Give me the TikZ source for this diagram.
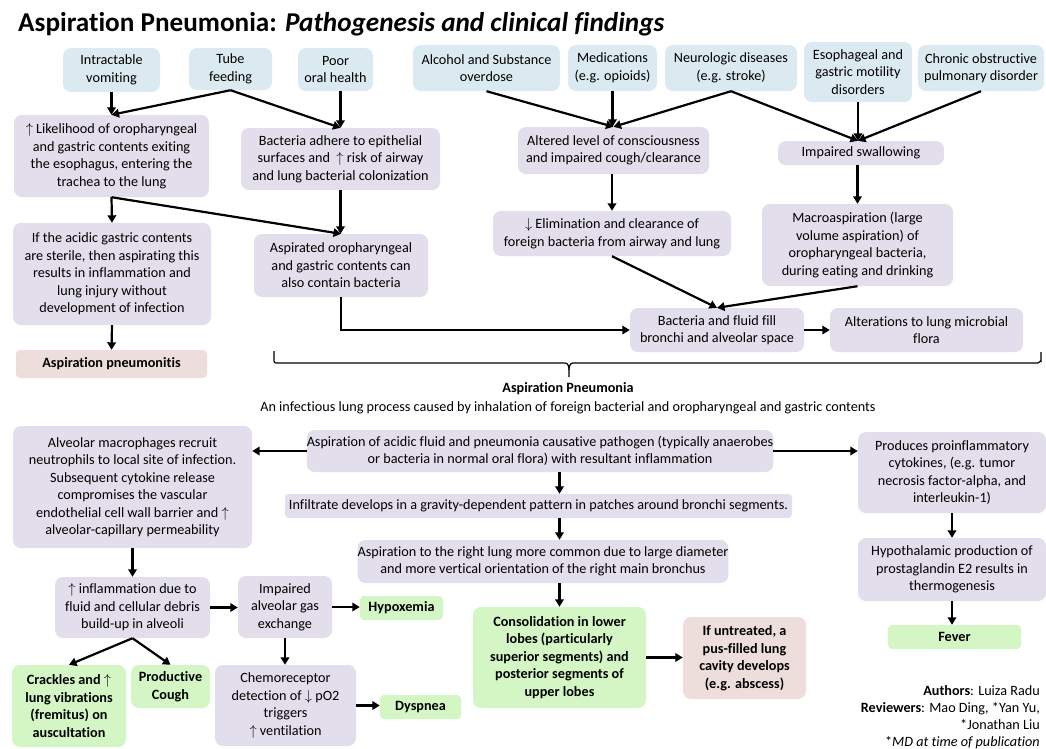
\documentclass[tikz,border=0pt]{standalone}
\usepackage{fontspec}
\setmainfont{Carlito}[Ligatures=NoCommon]
\usetikzlibrary{arrows.meta,calc}
\definecolor{cblue}{HTML}{DBEAF0}
\definecolor{cpurp}{HTML}{E2DEEB}
\definecolor{cgreen}{HTML}{D4F5C4}
\definecolor{cpink}{HTML}{EEDEDB}
\newcommand{\ua}{$\uparrow$}
\newcommand{\da}{$\downarrow$}
\tikzset{
  bx/.style={rounded corners=8pt, inner sep=0pt, align=center, font=\fontsize{14.2}{17.5}\selectfont},
  bl/.style={bx, fill=cblue},
  pu/.style={bx, fill=cpurp},
  gr/.style={bx, fill=cgreen, font=\fontsize{14.2}{17.5}\selectfont\bfseries},
  pk/.style={bx, fill=cpink, font=\fontsize{14.2}{17.5}\selectfont\bfseries},
  ar/.style={line width=2.2pt, -{Triangle[length=7.5pt,width=8.5pt]}},
}
\begin{document}
\begin{tikzpicture}[x=1pt,y=-1pt]
\useasboundingbox[fill=white] (0,0) rectangle (1046,748);
\node[anchor=base west, font=\fontsize{27.2}{32}\selectfont\bfseries, inner sep=0pt] (title) at (18,31) {Aspiration Pneumonia: \textit{Pathogenesis and clinical findings}};
% top row
\node[bl, minimum width=97pt, minimum height=44pt] (iv) at (111.5,70) {Intractable\\vomiting};
\node[bl, minimum width=83pt, minimum height=42pt] (tf) at (230.5,69) {Tube\\feeding};
\node[bl, minimum width=75pt, minimum height=43pt] (poh) at (335.5,69.5) {Poor\\oral health};
\node[bl, minimum width=147pt, minimum height=46pt] (alc) at (486.5,68) {Alcohol and Substance\\overdose};
\node[bl, minimum width=89pt, minimum height=46pt] (med) at (612.5,68) {Medications\\(e.g. opioids)};
\node[bl, minimum width=132pt, minimum height=46pt] (neu) at (731,68) {Neurologic diseases\\(e.g. stroke)};
\node[bl, minimum width=108pt, minimum height=60pt] (eso) at (858,72) {Esophageal and\\gastric motility\\disorders};
\node[bl, minimum width=126pt, minimum height=46pt] (copd) at (981,68) {Chronic obstructive\\pulmonary disorder};
% second
\node[pu, minimum width=195pt, minimum height=82pt] (lik) at (111.5,156) {\ua\ Likelihood of oropharyngeal\\and gastric contents exiting\\the esophagus, entering the\\trachea to the lung};
\node[pu, minimum width=199pt, minimum height=62pt] (bad) at (340.5,159) {Bacteria adhere to epithelial\\surfaces and \ \ua\ risk of airway\\and lung bacterial colonization};
\node[pu, minimum width=191pt, minimum height=47pt] (alt) at (613.5,150.5) {Altered level of consciousness\\and impaired cough/clearance};
\node[pu, minimum width=166pt, minimum height=24pt] (isw) at (861,153) {Impaired swallowing};
% third
\node[pu, minimum width=198pt, minimum height=102pt] (acid) at (112,274) {If the acidic gastric contents\\are sterile, then aspirating this\\results in inflammation and\\lung injury without\\development of infection};
\node[pu, minimum width=174pt, minimum height=63pt] (asp) at (341,265.5) {Aspirated oropharyngeal\\and gastric contents can\\also contain bacteria};
\node[pu, minimum width=238pt, minimum height=45pt] (elim) at (612,233.5) {\da\ Elimination and clearance of\\foreign bacteria from airway and lung};
\node[pu, minimum width=191pt, minimum height=82pt] (macro) at (857.5,245) {Macroaspiration (large\\volume aspiration) of\\oropharyngeal bacteria,\\during eating and drinking};
\node[pk, minimum width=191pt, minimum height=28pt, rounded corners=4pt] (pnm) at (111.5,364) {Aspiration pneumonitis};
\node[pu, minimum width=174pt, minimum height=44pt] (bff) at (717,330) {Bacteria and fluid fill\\bronchi and alveolar space};
\node[pu, minimum width=193pt, minimum height=44pt] (alter) at (926.5,330) {Alterations to lung microbial\\flora};
% brace
\draw[line width=1.2pt] (274,351) -- (274,361) to[out=-90,in=180] (276,363) -- (565,363) to[out=0,in=90] (569,370) -- (569,377);
\draw[line width=1.2pt] (569,370) to[out=90,in=180] (573,363) -- (1038,363) to[out=0,in=90] (1041,361) -- (1041,352);
\node[font=\fontsize{14.2}{17}\selectfont\bfseries, inner sep=0pt] (apn) at (568,389) {Aspiration Pneumonia};
\node[font=\fontsize{14.2}{17}\selectfont, inner sep=0pt] (apd) at (568,408) {An infectious lung process caused by inhalation of foreign bacterial and oropharyngeal and gastric contents};
% bottom
\node[pu, minimum width=239pt, minimum height=122pt] (alv) at (132.5,487) {Alveolar macrophages recruit\\neutrophils to local site of infection.\\Subsequent cytokine release\\compromises the vascular\\endothelial cell wall barrier and \ua\\alveolar-capillary permeability};
\node[pu, minimum width=464pt, minimum height=42pt] (aaf) at (540,451) {Aspiration of acidic fluid and pneumonia causative pathogen (typically anaerobes\\or bacteria in normal oral flora) with resultant inflammation};
\node[pu, minimum width=507pt, minimum height=24pt, rounded corners=4pt] (inf) at (538.5,506) {Infiltrate develops in a gravity-dependent pattern in patches around bronchi segments.};
\node[pu, minimum width=370pt, minimum height=43pt] (rl) at (543,561.5) {Aspiration to the right lung more common due to large diameter\\and more vertical orientation of the right main bronchus};
\node[pu, minimum width=188pt, minimum height=81pt] (pro) at (952,472.5) {Produces proinflammatory\\cytokines, (e.g. tumor\\necrosis factor-alpha, and\\interleukin-1)};
\node[pu, minimum width=188pt, minimum height=63pt] (hyp) at (952,569.5) {Hypothalamic production of\\prostaglandin E2 results in\\thermogenesis};
\node[gr, minimum width=133pt, minimum height=24pt, rounded corners=4pt] (fev) at (954.5,637) {Fever};
\node[pu, minimum width=155pt, minimum height=61pt] (infl) at (132.5,607.5) {\ua\ inflammation due to\\fluid and cellular debris\\build-up in alveoli};
\node[pu, minimum width=94pt, minimum height=62pt] (iag) at (285,607) {Impaired\\alveolar gas\\exchange};
\node[gr, minimum width=83pt, minimum height=24pt, rounded corners=4pt] (hpx) at (401.5,608) {Hypoxemia};
\node[gr, minimum width=173pt, minimum height=101pt] (cons) at (559.5,657.5) {Consolidation in lower\\lobes (particularly\\superior segments) and\\posterior segments of\\upper lobes};
\node[pk, minimum width=123pt, minimum height=82pt] (untr) at (744.5,658) {If untreated, a\\pus-filled lung\\cavity develops\\(e.g. abscess)};
\node[gr, minimum width=114pt, minimum height=82pt] (crk) at (69,706) {Crackles and \ua\\lung vibrations\\(fremitus) on\\auscultation};
\node[gr, minimum width=79pt, minimum height=43pt] (pc) at (170.5,686.5) {Productive\\Cough};
\node[pu, minimum width=141pt, minimum height=81pt] (chem) at (285.5,705.5) {Chemoreceptor\\detection of \da\ pO2\\triggers\\\ua\ ventilation};
\node[gr, minimum width=81pt, minimum height=24pt, rounded corners=4pt] (dys) at (420.5,707) {Dyspnea};
% authors
\node[anchor=base east, inner sep=0pt, align=right, font=\fontsize{14.2}{17}\selectfont] (auth) at (1040,695) {\textbf{Authors}: Luiza Radu};
\node[anchor=base east, inner sep=0pt, font=\fontsize{14.2}{17}\selectfont] (rev1) at (1040,712) {\textbf{Reviewers}: Mao Ding, *Yan Yu,};
\node[anchor=base east, inner sep=0pt, font=\fontsize{14.2}{17}\selectfont] (rev2) at (1040,729) {*Jonathan Liu};
\node[anchor=base east, inner sep=0pt, font=\fontsize{14.2}{17}\selectfont] (mdp) at (1040,746) {*\textit{MD at time of publication}};
% arrows top
\draw[ar] (iv.south) -- (lik.north);
\draw[ar] (tf.south) -- (lik.north);
\draw[ar] (tf.south) -- (bad.north);
\draw[ar] (poh.south -| bad.north) -- (bad.north);
\draw[ar] (lik.south) -- (acid.north);
\draw[ar] (lik.south) -- (asp.north);
\draw[ar] (bad.south) -- (bad.south |- asp.north);
\draw[ar] (acid.south) -- (pnm.north);
\draw[ar] (asp.south) -- (asp.south |- bff.west) -- (bff.west);
\draw[ar] (alc.south) -- (alt.north);
\draw[ar] (med.south) -- (med.south |- alt.north);
\draw[ar] (neu.south) -- (alt.north);
\draw[ar] (neu.south) -- (eso.south |- isw.north);
\draw[ar] (eso.south) -- (eso.south |- isw.north);
\draw[ar] (copd.south) -- (eso.south |- isw.north);
\draw[ar] (alt.south -| elim.north) -- (elim.north);
\draw[ar] (isw.south -| macro.north) -- (macro.north);
\draw[ar] (elim.south) -- (bff.north);
\draw[ar] (macro.south) -- (bff.north);
\draw[ar] (bff.east) -- (alter.west);
% arrows bottom
\draw[ar] (aaf.west) -- (aaf.west -| alv.east);
\draw[ar] (aaf.east) -- (aaf.east -| pro.west);
\draw[ar] (aaf.south -| cons.north) -- (inf.north -| cons.north);
\draw[ar] (inf.south -| cons.north) -- (rl.north -| cons.north);
\draw[ar] (rl.south -| cons.north) -- (cons.north);
\draw[ar] (cons.east) -- (cons.east -| untr.west);
\draw[ar] (pro.south) -- (hyp.north);
\draw[ar] (hyp.south) -- (hyp.south |- fev.north);
\draw[ar] (alv.south) -- (infl.north);
\draw[ar] (infl.east) -- (infl.east -| iag.west);
\draw[ar] (iag.east) -- (iag.east -| hpx.west);
\draw[ar] (iag.south) -- (iag.south |- chem.north);
\draw[ar] (chem.east) -- (chem.east -| dys.west);
\draw[ar] (infl.south) -- (crk.north);
\draw[ar] (infl.south) -- (pc.north);
\end{tikzpicture}
\end{document}
